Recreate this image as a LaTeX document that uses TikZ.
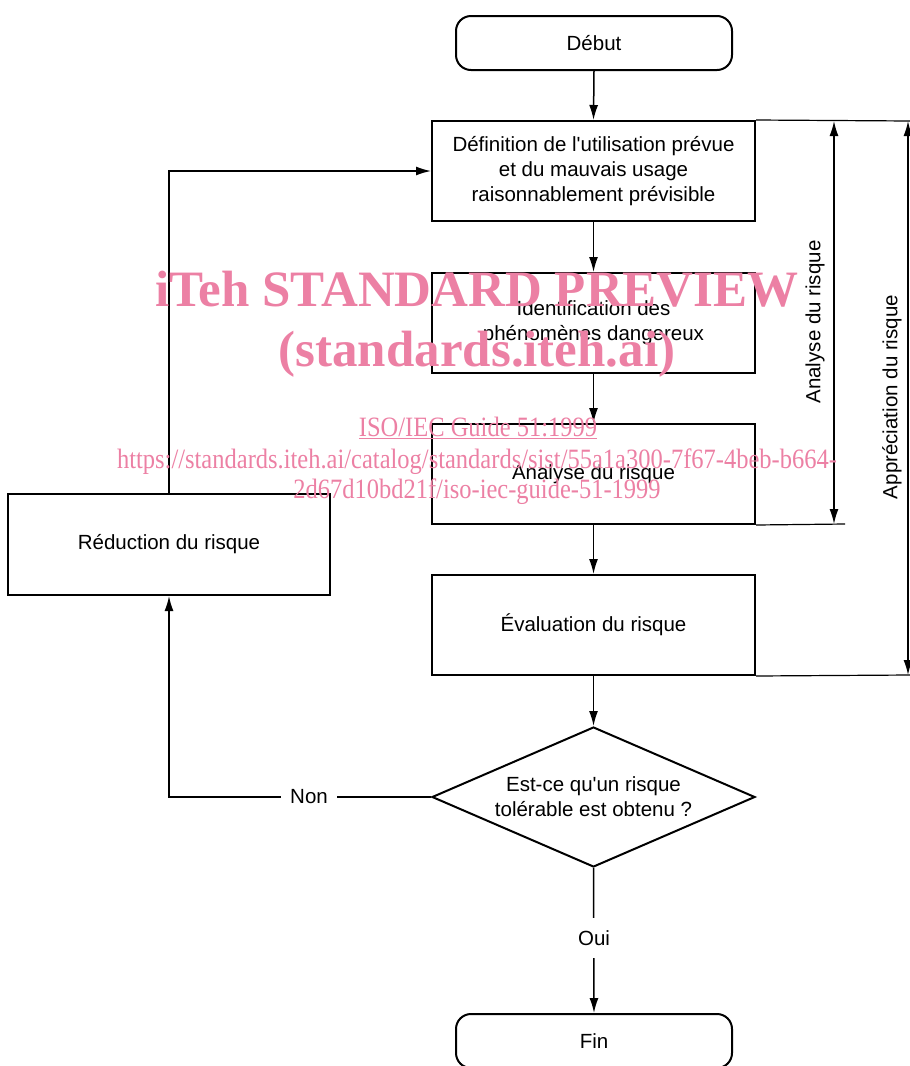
\documentclass[tikz,border=0pt]{standalone}
\usepackage{fontspec}
\setmainfont{Liberation Sans}[Ligatures=TeXOff]
\newfontfamily\wmfont{Liberation Serif}[Ligatures=TeXOff]
\usetikzlibrary{shapes.geometric,arrows.meta}
\definecolor{wm}{RGB}{236,128,164}
\tikzset{
  txt/.style={font=\fontsize{20.5}{25}\selectfont, align=center},
  box/.style={txt, draw, line width=2pt, minimum width=323pt, minimum height=100pt, inner sep=0pt},
  term/.style={txt, draw, line width=2pt, rounded corners=15pt, minimum width=276pt, minimum height=54pt, inner sep=0pt},
  diabox/.style={draw, line width=2pt, diamond, minimum width=323pt, minimum height=140pt, inner sep=0pt},
  arr/.style={line width=1.5pt, -{Latex[length=15pt,width=9pt]}},
  dimarr/.style={line width=1.5pt, {Latex[length=15pt,width=9pt]}-{Latex[length=15pt,width=9pt]}},
  thinl/.style={line width=1.2pt},
  lbl/.style={txt, fill=white, inner sep=0pt},
  wmbig/.style={text=wm, font=\wmfont\bfseries\fontsize{51}{55}\selectfont, anchor=base, inner sep=0pt},
  wmsmall/.style={text=wm, font=\wmfont\fontsize{28}{30}\selectfont, anchor=base, inner sep=0pt, xscale=0.875}
}
\begin{document}
\begin{tikzpicture}[x=1pt,y=-1pt]
\useasboundingbox (0,0) rectangle (910,1066);
\clip (0,0) rectangle (910,1066);

\node[term] (debut) at (594,43) {Début};
\node[box] (b1) at (593.5,171) {Définition de l'utilisation prévue\\et du mauvais usage\\raisonnablement prévisible};
\node[box] (b2) at (593.5,323) {Identification des\\phénomènes dangereux};
\node[box] (b3) at (593.5,474) {Analyse du risque};
\node[box] (b4) at (593.5,625) {Évaluation du risque};
\node[diabox] (dq) at (593.5,797) {};
\node[txt] (dqt) at (dq.center) {Est-ce qu'un risque\\tolérable est obtenu ?};
\node[box, minimum width=322pt, minimum height=101pt] (red) at (169,544.5) {Réduction du risque};
\node[term] (fin) at (594,1041) {Fin};

\draw[arr] (debut.south) -- (b1.north);
\draw[arr] (b1.south) -- (b2.north);
\draw[arr] (b2.south) -- (b3.north);
\draw[arr] (b3.south) -- (b4.north);
\draw[arr] (b4.south) -- (dq.north);
\draw[arr] (dq.south) -- (fin.north);
\draw[arr] (dq.west) -- (dq.west -| red.south) -- (red.south);
\draw[arr] (red.north) |- (b1.west);
\node[lbl, minimum height=40pt] (oui) at (594,938) {Oui};
\node[lbl, minimum width=56pt] (non) at (309,797) {Non};

% right side dimension lines
\coordinate (e1) at (910,121);
\coordinate (e3) at (845,524);
\coordinate (e4) at (910,675);
\draw[thinl] (b1.north east) -- (e1);
\draw[thinl] (b3.south east) -- (e3);
\draw[thinl] (b4.south east) -- (e4);
\coordinate (a1) at (834,121);
\coordinate (a2) at (834,524);
\coordinate (p1) at (908,121);
\coordinate (p2) at (908,675);
\draw[dimarr] (a1) -- (a2);
\draw[dimarr] (p1) -- (p2);
\node[txt, rotate=90] (lanal) at (815,322) {Analyse du risque};
\node[txt, rotate=90] (lappr) at (892,397) {Appréciation du risque};

% watermark
\node[wmbig] (w1) at (477,306) {iTeh STANDARD PREVIEW};
\node[wmbig] (w2) at (477,366) {(standards.iteh.ai)};
\node[wmsmall] (w3) at (478,436) {\underline{ISO/IEC Guide 51:1999}};
\node[wmsmall] (w4) at (477,468) {https://standards.iteh.ai/catalog/standards/sist/55a1a300-7f67-4beb-b664-};
\node[wmsmall] (w5) at (477,498) {2d67d10bd21f/iso-iec-guide-51-1999};
\end{tikzpicture}
\end{document}
